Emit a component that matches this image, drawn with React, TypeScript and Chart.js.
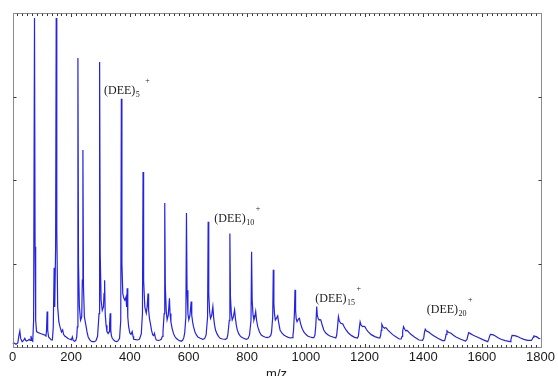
import { useEffect, useRef } from 'react';
import { Chart, registerables } from 'chart.js';

Chart.register(...registerables);

// m/z positions of the spectrum samples
const mzValues = [
  0, 5, 12, 18, 22, 25, 28, 33, 38, 42, 45, 48, 53, 57, 60, 63, 66, 69, 72, 75, 77, 79, 82, 88, 93, 100, 106, 110, 114, 116, 118, 120, 123, 128, 132, 136, 139, 142, 144, 147, 149, 151, 154, 158, 162, 167, 171, 174, 178, 183, 188, 193, 198, 201, 204, 207, 212, 216, 219, 221, 223, 225, 228, 232, 236, 238, 240, 242, 245, 250, 254, 258, 263, 269, 275, 280, 285, 290, 295, 297, 299, 302, 306, 310, 312, 314, 316, 319, 322, 326, 329, 331, 333, 335, 337, 340, 346, 350, 354, 359, 365, 369, 371, 373, 376, 380, 383, 387, 389, 391, 393, 396, 400, 404, 408, 411, 413, 420, 427, 433, 439, 443, 445, 447, 451, 456, 459, 462, 464, 467, 470, 474, 478, 481, 484, 487, 490, 498, 503, 507, 511, 513, 517, 519, 521, 524, 527, 531, 535, 537, 540, 544, 549, 553, 558, 564, 570, 575, 580, 584, 587, 591, 593, 595, 598, 601, 605, 609, 611, 614, 617, 622, 627, 632, 640, 649, 655, 660, 665, 667, 669, 672, 675, 679, 683, 686, 689, 692, 697, 702, 708, 716, 726, 731, 734, 739, 741, 743, 746, 749, 753, 757, 760, 763, 766, 771, 776, 780, 788, 797, 803, 808, 813, 815, 817, 820, 823, 826, 829, 832, 836, 842, 848, 853, 860, 868, 875, 880, 883, 887, 889, 891, 893, 896, 901, 904, 907, 912, 918, 925, 932, 940, 948, 953, 956, 958, 961, 963, 965, 967, 970, 975, 978, 982, 987, 993, 1000, 1006, 1015, 1022, 1027, 1031, 1034, 1037, 1039, 1042, 1045, 1049, 1051, 1056, 1061, 1068, 1075, 1082, 1092, 1102, 1105, 1108, 1111, 1114, 1119, 1123, 1126, 1131, 1137, 1145, 1156, 1166, 1176, 1179, 1182, 1185, 1188, 1193, 1197, 1201, 1206, 1212, 1223, 1235, 1245, 1252, 1255, 1257, 1259, 1263, 1268, 1271, 1274, 1279, 1285, 1296, 1308, 1318, 1325, 1328, 1330, 1333, 1337, 1341, 1344, 1347, 1352, 1358, 1370, 1386, 1398, 1402, 1404, 1407, 1411, 1416, 1420, 1428, 1437, 1450, 1466, 1473, 1476, 1478, 1481, 1486, 1495, 1503, 1512, 1528, 1544, 1549, 1552, 1555, 1561, 1569, 1578, 1586, 1603, 1620, 1623, 1626, 1629, 1637, 1646, 1655, 1665, 1680, 1696, 1699, 1701, 1703, 1712, 1720, 1732, 1743, 1756, 1769, 1772, 1775, 1777, 1786, 1794, 1800,
];

// relative intensity (% of full scale) at each m/z above
const intensities = [
  1.0, 1.2, 0.8, 1.2, 3.5, 4.8, 2.5, 1.6, 2.0, 2.6, 2.0, 1.8, 2.0, 2.3, 2.0, 3.3, 2.0, 1.7, 8, 98.5, 30, 8, 4.6, 4.3, 4.1, 3.9, 3.7, 3.6, 3.3, 5, 10.6, 5, 3.0, 2.5, 2.1, 2.1, 6, 23.7, 12, 30, 98.5, 35, 12, 7.5, 6.0, 4.5, 5.1, 3.8, 3.3, 3.0, 2.6, 2.4, 2.3, 2.2, 3.0, 2.0, 1.7, 2.0, 3.0, 6, 86.5, 25, 12, 8, 9, 20, 59, 18, 9, 6.6, 4.5, 3.0, 2.2, 1.7, 1.6, 1.6, 2.0, 3.2, 10, 85.3, 28, 14, 11, 12, 16, 20, 10, 6.5, 4.6, 4.0, 4.5, 7, 10.1, 5, 3.5, 2.6, 2.0, 1.7, 1.6, 1.8, 2.6, 8, 74.3, 25, 16, 14.5, 14, 15, 12, 17.6, 9, 6, 4.2, 3.8, 4.6, 3.2, 2.3, 2.2, 2.1, 2.4, 3.9, 10, 52.4, 20, 12, 10.1, 12, 16, 11, 8.5, 7.1, 5, 3.6, 3.4, 4.1, 2.8, 2.1, 2.0, 2.1, 2.3, 3.2, 4.6, 10, 43.1, 18, 11, 8.1, 9.5, 14.6, 10, 7.5, 5.6, 4.0, 3.2, 2.6, 2.2, 1.9, 1.7, 2.0, 2.8, 4.2, 9, 40.1, 17, 10, 8.1, 9.5, 13.6, 9.5, 7.5, 6.1, 4.5, 3.6, 3.0, 2.6, 2.3, 2.5, 3.6, 9, 37.5, 16, 10.5, 8.6, 9.5, 12.1, 8.5, 6.5, 5.1, 4.0, 3.2, 2.6, 2.4, 2.3, 2.6, 3.6, 8, 34, 15, 10, 8.1, 9, 11.1, 8.5, 6.5, 5.2, 4.0, 3.3, 3.0, 2.6, 2.3, 2.5, 3.6, 8, 28.5, 14, 9.5, 8.1, 9, 10.6, 8, 6.1, 4.5, 3.6, 3.3, 3.0, 2.8, 3.0, 3.4, 4.4, 9, 23.1, 13, 10, 8.1, 8.8, 9.3, 7.5, 5.1, 4.2, 3.6, 3.2, 2.9, 2.7, 2.8, 3.5, 5, 10, 17.1, 11, 8.5, 7.6, 8.4, 8.6, 7, 5.6, 4.5, 3.8, 3.3, 3.0, 2.8, 2.8, 3.6, 6.5, 12.1, 9.5, 8.5, 8.1, 8.2, 8.1, 6.5, 5.1, 4.2, 3.7, 3.3, 3.0, 2.7, 3.5, 6, 9.1, 7.8, 7.1, 7.0, 6.9, 6, 5.1, 4.2, 3.4, 2.9, 2.7, 3.3, 5.5, 7.5, 6.6, 6.1, 6.2, 6.1, 5.3, 4.6, 3.7, 3.1, 2.8, 2.7, 3.5, 5, 6.8, 6.0, 5.6, 5.8, 5.7, 5.1, 4.6, 3.7, 3.0, 2.4, 2.4, 3.2, 4.8, 6.1, 5.3, 4.8, 5.0, 4.8, 4.3, 3.8, 3.0, 2.1, 2.0, 2.8, 4.2, 5.3, 4.8, 4.6, 4.4, 3.8, 3.3, 2.6, 1.9, 1.9, 2.8, 3.8, 4.8, 4.4, 4.1, 3.5, 3.0, 2.3, 1.8, 2.2, 3.3, 4.3, 4.0, 3.6, 3.2, 2.9, 2.2, 1.6, 2.2, 3.1, 3.8, 3.7, 3.3, 2.8, 2.3, 1.9, 1.6, 2.2, 2.9, 3.5, 3.4, 3.2, 2.7, 2.3, 2.0, 2.0, 2.4, 2.9, 3.3, 3.1, 2.6, 2.5,
];

const xMin = 0;
const xMax = 1800;
const xLabelStep = 200;
const xMinorPerMajor = 12;
const yTickValues = [25, 50, 75];

// cluster annotations: (DEE)n+ placed at (m/z, intensity)
const annotationCounts = ['5', '10', '15', '20'];
const annotationMz = [312, 688, 1032, 1412];
const annotationLevel = [75.7, 37.4, 13.6, 10.1];

const lineColor = 'rgb(35, 35, 225)';

export default function App() {
  const ref = useRef<HTMLCanvasElement | null>(null);

  useEffect(() => {
    const canvas = ref.current;
    if (!canvas) return;
    const points = mzValues.map((x, i) => ({ x, y: intensities[i] }));

    const framePlugin = {
      id: 'frameAndNotes',
      afterDatasetsDraw(chart: any) {
        const { ctx, chartArea } = chart;
        const xs = chart.scales.x;
        const ys = chart.scales.y;
        const l = Math.round(chartArea.left) + 0.5;
        const r = Math.round(chartArea.right) + 0.5;
        const t = Math.round(chartArea.top) + 0.5;
        const b = Math.round(chartArea.bottom) + 0.5;
        ctx.save();
        ctx.lineWidth = 1;
        ctx.strokeStyle = '#8c8c8c';
        ctx.strokeRect(l, t, r - l, b - t);
        ctx.strokeStyle = '#3a3a3a';
        ctx.beginPath();
        xs.ticks.forEach((tk: any) => {
          const px = Math.round(xs.getPixelForValue(tk.value)) + 0.5;
          const major = Math.abs(tk.value / xLabelStep - Math.round(tk.value / xLabelStep)) < 1e-6;
          const len = major ? 3.5 : 2.5;
          if (px <= l + 0.1 || px >= r - 0.1) return;
          ctx.moveTo(px, b);
          ctx.lineTo(px, b - len);
          ctx.moveTo(px, t);
          ctx.lineTo(px, t + len);
        });
        yTickValues.forEach((v) => {
          const py = Math.round(ys.getPixelForValue(v)) + 0.5;
          ctx.moveTo(l, py);
          ctx.lineTo(l + 3, py);
          ctx.moveTo(r, py);
          ctx.lineTo(r - 3, py);
        });
        ctx.stroke();

        ctx.fillStyle = '#1a1a1a';
        ctx.textBaseline = 'alphabetic';
        ctx.textAlign = 'left';
        annotationCounts.forEach((n, i) => {
          const px = xs.getPixelForValue(annotationMz[i]);
          const py = ys.getPixelForValue(annotationLevel[i]);
          ctx.font = '12px "Liberation Serif", "Times New Roman", serif';
          const main = '(DEE)';
          ctx.fillText(main, px, py);
          const w = ctx.measureText(main).width;
          ctx.font = '8px "Liberation Serif", "Times New Roman", serif';
          ctx.fillText(n, px + w + 0.5, py + 3);
          const sw = ctx.measureText(n).width;
          ctx.fillText('+', px + w + Math.max(sw, 8) + 2, py - 11);
        });
        ctx.restore();
      },
    };

    const chart = new Chart(canvas, {
      type: 'line',
      data: {
        datasets: [
          {
            data: points,
            borderColor: lineColor,
            borderWidth: 1.2,
            pointRadius: 0,
            tension: 0,
            fill: false,
          },
        ],
      },
      options: {
        responsive: false,
        animation: false,
        events: [],
        parsing: false,
        plugins: { legend: { display: false }, tooltip: { enabled: false } },
        layout: { padding: { left: 12.5, right: 16, top: 13, bottom: 0 } },
        scales: {
          x: {
            type: 'linear',
            min: xMin,
            max: xMax,
            grid: { display: false, drawTicks: false },
            border: { display: false },
            ticks: {
              stepSize: xLabelStep / xMinorPerMajor,
              autoSkip: false,
              maxRotation: 0,
              padding: 3,
              color: '#1a1a1a',
              font: { family: '"Liberation Sans", Arial, sans-serif', size: 13 },
              callback: (v: any) => {
                const q = Number(v) / xLabelStep;
                return Math.abs(q - Math.round(q)) < 1e-6 ? String(Math.round(q) * xLabelStep) : '';
              },
            },
            title: {
              display: true,
              text: 'm/z',
              color: '#1a1a1a',
              font: { family: '"Liberation Sans", Arial, sans-serif', size: 13 },
              padding: { top: 0, bottom: -6 },
            },
            afterFit: (s: any) => {
              s.height = 29;
            },
          },
          y: { min: 0, max: 100, display: false },
        },
      },
      plugins: [framePlugin],
    });
    return () => chart.destroy();
  }, []);

  return (
    <div style={{ position: 'absolute', left: 0, top: 0, width: 558, height: 376, background: '#fff' }}>
      <canvas ref={ref} width={558} height={376} style={{ display: 'block' }} />
    </div>
  );
}
